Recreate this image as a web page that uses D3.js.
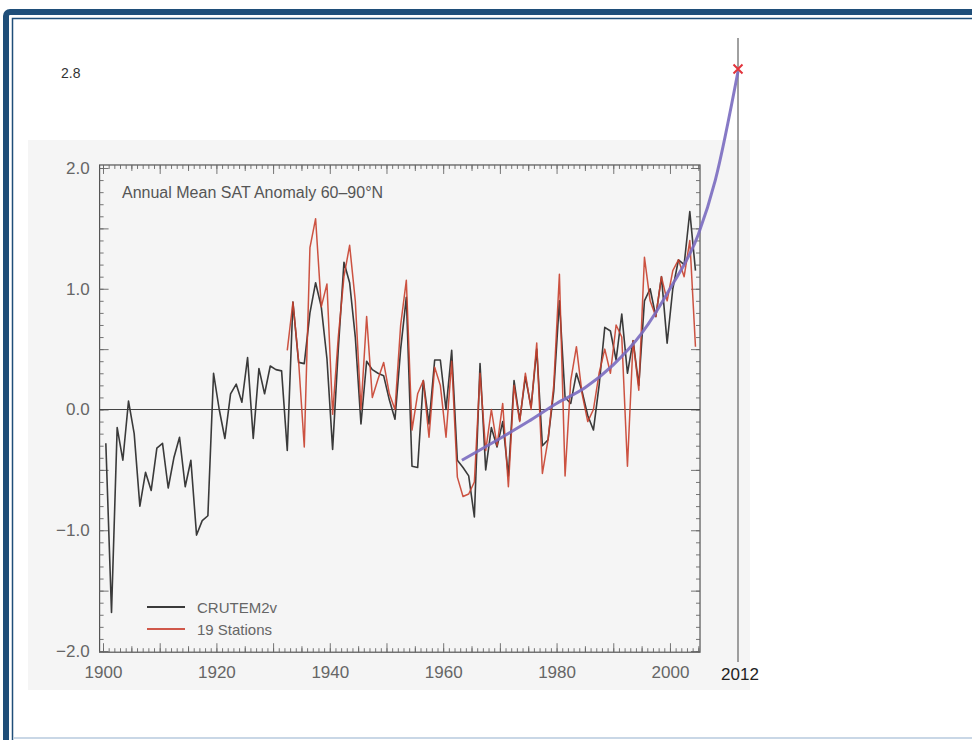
<!DOCTYPE html>
<html lang="en">
<head>
  <meta charset="UTF-8">
  <title>Annual Mean SAT Anomaly 60-90N</title>
  <script src="https://d3js.org/d3.v7.min.js"></script>
  <style>
    body { margin: 0; background: #fff; }
    svg text { font-family: "Liberation Sans", Arial, sans-serif; }
  </style>
</head>
<body>
<script>
  // CRUTEM2v annual anomalies, 1900 onward
  var crutemStart = 1900;
  var crutemValues = [
    -0.28, -1.68, -0.15, -0.42, 0.07, -0.2, -0.8, -0.52, -0.67, -0.32,
    -0.28, -0.65, -0.4, -0.23, -0.64, -0.42, -1.04, -0.92, -0.88, 0.3,
    0.0, -0.24, 0.13, 0.21, 0.06, 0.43, -0.24, 0.34, 0.13, 0.36,
    0.33, 0.32, -0.34, 0.89, 0.39, 0.38, 0.8, 1.05, 0.85, 0.42,
    -0.33, 0.5, 1.22, 1.05, 0.6, -0.12, 0.4, 0.33, 0.3, 0.28,
    0.08, -0.08, 0.5, 0.93, -0.47, -0.48, 0.24, -0.12, 0.41, 0.41,
    0.0, 0.49, -0.42, -0.48, -0.55, -0.89, 0.38, -0.5, -0.15, -0.31,
    -0.1, -0.55, 0.24, -0.09, 0.27, 0.02, 0.5, -0.3, -0.25, 0.15,
    0.9, 0.1, 0.05, 0.3, 0.15, -0.05, -0.17, 0.2, 0.68, 0.65,
    0.41, 0.79, 0.3, 0.57, 0.2, 0.9, 1.0, 0.77, 1.1, 0.55,
    1.0, 1.24, 1.2, 1.64, 1.15
  ];

  // 19 stations, 1932 onward
  var stationsStart = 1932;
  var stationsValues = [
    0.49, 0.89, 0.4, -0.31, 1.34, 1.58, 0.85, 1.04,
    -0.04, 0.6, 1.1, 1.36, 0.9, 0.0, 0.77, 0.1, 0.25, 0.39,
    0.13, 0.0, 0.7, 1.07, -0.17, 0.13, 0.24, -0.23, 0.35, 0.2,
    -0.23, 0.4, -0.56, -0.72, -0.7, -0.6, 0.3, -0.34, 0.0, -0.3,
    0.05, -0.64, 0.2, -0.1, 0.3, 0.0, 0.55, -0.53, -0.25, 0.2,
    1.12, -0.55, 0.24, 0.52, 0.13, -0.1, 0.0, 0.3, 0.5, 0.3,
    0.7, 0.6, -0.47, 0.57, 0.16, 1.26, 0.9, 0.77, 1.1, 0.9,
    1.15, 1.24, 1.1, 1.4, 0.52
  ];

  // hand-drawn trend curve
  var trendYears  = [1963.3, 1970, 1975, 1980, 1985, 1990, 1995, 2000, 2005, 2008, 2012];
  var trendValues = [-0.42, -0.24, -0.1, 0.05, 0.18, 0.37, 0.63, 1.0, 1.45, 1.9, 2.8];

  var markYear = 2012, markValue = 2.82;

  var yTicks = [-2, -1, 0, 1, 2];
  var xTicks = [1900, 1920, 1940, 1960, 1980, 2000];
  var legendLabels = ["CRUTEM2v", "19 Stations"];
  var title = "Annual Mean SAT Anomaly 60\u201390\u00b0N";

  var W = 972, H = 740;
  var svg = d3.select("body").append("svg").attr("width", W).attr("height", H);

  // slide frame
  svg.append("rect").attr("x", 6).attr("y", 12).attr("width", 1000).attr("height", 800)
    .attr("rx", 4).attr("fill", "none").attr("stroke", "#1f4e79").attr("stroke-width", 6);
  svg.append("rect").attr("x", 12.5).attr("y", 18.5).attr("width", 1000).attr("height", 800)
    .attr("fill", "none").attr("stroke", "#1f4e79").attr("stroke-width", 1.5);
  svg.append("line").attr("x1", 14).attr("x2", W).attr("y1", 738).attr("y2", 738)
    .attr("stroke", "#c9d7e6").attr("stroke-width", 2);

  // scanned page tint
  svg.append("rect").attr("x", 28).attr("y", 140).attr("width", 722).attr("height", 550)
    .attr("fill", "#f5f5f5");

  var x = d3.scaleLinear().domain([1900, 2012]).range([103, 738]);
  var y = d3.scaleLinear().domain([-2, 2]).range([651, 168]);

  var boxL = x(1899.4), boxR = x(2005.3), boxT = y(2.025), boxB = y(-2.01);

  var g = svg.append("g");

  // plot box
  g.append("rect").attr("x", boxL).attr("y", boxT).attr("width", boxR - boxL).attr("height", boxB - boxT)
    .attr("fill", "none").attr("stroke", "#555").attr("stroke-width", 1.2);

  // inner ticks: minor and major
  var yMinor = d3.range(-20, 21).map(function(d) { return d / 10; });
  var yMajor = d3.range(-4, 5).map(function(d) { return d / 2; });
  var xMinor = d3.range(1900, 2006);
  var xMid = d3.range(1905, 2006, 10);
  var xMajor = d3.range(1900, 2006, 10);

  function tickSet(axisFn, scale, vals, size, tx, ty) {
    g.append("g").attr("transform", "translate(" + tx + "," + ty + ")")
      .call(axisFn(scale).tickValues(vals).tickSize(size).tickFormat(""))
      .call(function(s) {
        s.select(".domain").remove();
        s.selectAll("line").attr("stroke", "#666").attr("stroke-width", 0.9);
      });
  }
  tickSet(d3.axisRight, y, yMinor, 4, boxL, 0);
  tickSet(d3.axisRight, y, yMajor, 9, boxL, 0);
  tickSet(d3.axisLeft, y, yMinor, 4, boxR, 0);
  tickSet(d3.axisLeft, y, yMajor, 9, boxR, 0);
  tickSet(d3.axisBottom, x, xMinor, 4, 0, boxT);
  tickSet(d3.axisBottom, x, xMid, 6, 0, boxT);
  tickSet(d3.axisBottom, x, xMajor, 9, 0, boxT);
  tickSet(d3.axisTop, x, xMinor, 4, 0, boxB);
  tickSet(d3.axisTop, x, xMid, 6, 0, boxB);
  tickSet(d3.axisTop, x, xMajor, 9, 0, boxB);

  // tick labels
  var yAx = g.append("g").attr("transform", "translate(" + boxL + ",0)")
    .call(d3.axisLeft(y).tickValues(yTicks).tickSize(0).tickPadding(10).tickFormat(d3.format(".1f")));
  yAx.select(".domain").remove();
  yAx.selectAll("text").attr("fill", "#666").style("font-size", "17px");

  var xAx = g.append("g").attr("transform", "translate(0," + boxB + ")")
    .call(d3.axisBottom(x).tickValues(xTicks).tickSize(0).tickPadding(14).tickFormat(d3.format("d")));
  xAx.select(".domain").remove();
  xAx.selectAll("text").attr("fill", "#666").style("font-size", "17px");

  // zero line
  g.append("line").attr("x1", boxL).attr("x2", boxR).attr("y1", y(0)).attr("y2", y(0))
    .attr("stroke", "#444").attr("stroke-width", 1.2);

  // title
  g.append("text").attr("x", 122).attr("y", 198).attr("fill", "#555")
    .style("font-size", "16px").text(title);

  // series
  var line = d3.line()
    .x(function(d) { return x(d[0] + 0.5); })
    .y(function(d) { return y(d[1]); });

  var crutem = crutemValues.map(function(v, i) { return [crutemStart + i, v]; });
  var stations = stationsValues.map(function(v, i) { return [stationsStart + i, v]; });

  g.append("path").datum(crutem).attr("d", line)
    .attr("fill", "none").attr("stroke", "#3a3a3a").attr("stroke-width", 1.6).attr("stroke-linejoin", "round");
  g.append("path").datum(stations).attr("d", line)
    .attr("fill", "none").attr("stroke", "#c8402e").attr("stroke-width", 1.5).attr("stroke-linejoin", "round")
    .attr("opacity", 0.9);

  // legend
  var legendColors = ["#3a3a3a", "#d0584a"];
  legendLabels.forEach(function(lbl, i) {
    var ly = 607 + i * 22;
    g.append("line").attr("x1", 147).attr("x2", 185).attr("y1", ly).attr("y2", ly)
      .attr("stroke", legendColors[i]).attr("stroke-width", 1.8);
    g.append("text").attr("x", 197).attr("y", ly + 6).attr("fill", "#666")
      .style("font-size", "15px").text(lbl);
  });

  // 2012 marker line
  g.append("line").attr("x1", x(2012)).attr("x2", x(2012)).attr("y1", 38).attr("y2", 662)
    .attr("stroke", "#808080").attr("stroke-width", 1.5);

  // trend curve
  var trend = trendYears.map(function(t, i) { return [t, trendValues[i]]; });
  g.append("path").datum(trend)
    .attr("d", d3.line().curve(d3.curveMonotoneX)
      .x(function(d) { return x(d[0]); }).y(function(d) { return y(d[1]); }))
    .attr("fill", "none").attr("stroke", "#7a6cc0").attr("stroke-width", 3).attr("opacity", 0.9);

  // red cross at the projected point
  var mx = x(markYear), my = y(markValue), s = 4.5;
  g.append("path").attr("d", "M" + (mx - s) + "," + (my - s) + "L" + (mx + s) + "," + (my + s) +
      "M" + (mx - s) + "," + (my + s) + "L" + (mx + s) + "," + (my - s))
    .attr("stroke", "#e2343c").attr("stroke-width", 2);

  // added labels
  g.append("text").attr("x", 61).attr("y", 78).attr("fill", "#333").style("font-size", "14px").text("2.8");
  g.append("text").attr("x", x(2012) + 2).attr("y", 680).attr("text-anchor", "middle").attr("fill", "#222")
    .style("font-size", "17px").text("2012");
</script>
</body>
</html>
